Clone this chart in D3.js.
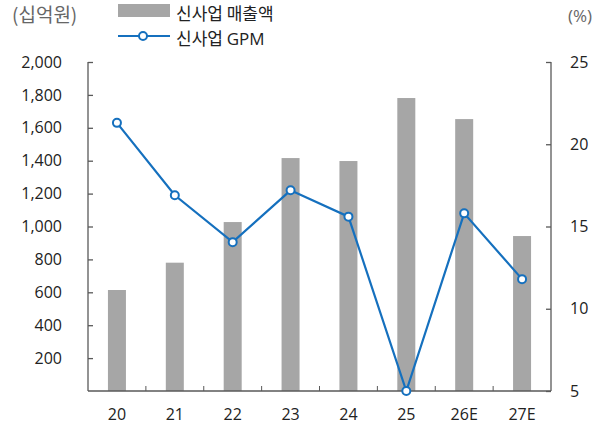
<!doctype html>
<meta charset="utf-8">
<script src="https://d3js.org/d3.v7.min.js"></script>
<style>
  body { margin: 0; background: #fff; }
  text { font-family: "Open Sans", "Noto Sans CJK KR", sans-serif; fill: #222; }
  .kr { font-family: "Noto Sans CJK KR", sans-serif; font-size: 17px; }
</style>
<body>
<svg width="604" height="433"></svg>
<script>
  // data
  var years = ["20", "21", "22", "23", "24", "25", "26E", "27E"];
  var sales = [614, 780, 1027, 1416, 1398, 1781, 1653, 942];
  var gpm = [21.3, 16.9, 14.05, 17.2, 15.6, 5.0, 15.8, 11.8];
  var leftTicks = [200, 400, 600, 800, 1000, 1200, 1400, 1600, 1800, 2000];
  var rightTicks = [5, 10, 15, 20, 25];

  var svg = d3.select("svg");
  var plotL = 88, plotR = 551, plotT = 62, plotB = 391;
  var axisColor = "#595959";
  var blue = "#1570be";

  var x = d3.scaleBand().domain(years).range([plotL, plotR]);
  var y = d3.scaleLinear().domain([0, 2000]).range([plotB, plotT]);
  var y2 = d3.scaleLinear().domain([5, 25]).range([plotB, plotT]);

  // bars
  var barW = 18;
  svg.selectAll(".bar")
    .data(sales)
    .enter().append("rect")
    .attr("x", function (d, i) { return x(years[i]) + x.bandwidth() / 2 - barW / 2; })
    .attr("y", function (d) { return y(d); })
    .attr("width", barW)
    .attr("height", function (d) { return plotB - y(d); })
    .attr("fill", "#a6a6a6");

  // left axis
  var gl = svg.append("g").attr("transform", "translate(" + plotL + ",0)")
    .call(d3.axisLeft(y).tickValues(leftTicks).tickSize(-5).tickPadding(26)
      .tickFormat(d3.format(",")));
  gl.select(".domain").attr("d", "M0," + plotT + "V" + plotB);

  // right axis
  var gr = svg.append("g").attr("transform", "translate(" + plotR + ",0)")
    .call(d3.axisRight(y2).tickValues(rightTicks).tickSize(-5).tickPadding(19));
  gr.select(".domain").attr("d", "M0," + plotT + "V" + plotB);

  // bottom axis with ticks at category boundaries
  var gb = svg.append("g").attr("transform", "translate(0," + plotB + ")")
    .call(d3.axisBottom(x).tickSize(0).tickPadding(18));
  gb.select(".domain").attr("d", "M" + plotL + ",0H" + plotR);
  gb.selectAll(".sep")
    .data(years.slice(1))
    .enter().append("line")
    .attr("x1", function (d) { return x(d); })
    .attr("x2", function (d) { return x(d); })
    .attr("y1", 0).attr("y2", -5)
    .attr("stroke", axisColor);

  svg.selectAll(".domain, .tick line")
    .attr("stroke", axisColor).attr("stroke-width", 1.3);
  svg.selectAll(".tick text").style("font-size", "16px").attr("fill", "#222");

  // GPM line
  var line = d3.line()
    .x(function (d, i) { return x(years[i]) + x.bandwidth() / 2; })
    .y(function (d) { return y2(d); });
  svg.append("path")
    .datum(gpm)
    .attr("d", line)
    .attr("fill", "none")
    .attr("stroke", blue)
    .attr("stroke-width", 2.2);
  svg.selectAll(".dot")
    .data(gpm)
    .enter().append("circle")
    .attr("cx", function (d, i) { return x(years[i]) + x.bandwidth() / 2; })
    .attr("cy", function (d) { return y2(d); })
    .attr("r", 4)
    .attr("fill", "#fff")
    .attr("stroke", blue)
    .attr("stroke-width", 2);

  // unit labels
  svg.append("text").attr("class", "kr").attr("x", 12).attr("y", 22)
    .style("font-size", "19px").style("fill", "#666").text("(십억원)");
  svg.append("text").attr("x", 568).attr("y", 22).style("font-size", "17px")
    .style("fill", "#666").text("(%)");

  // legend
  svg.append("rect").attr("x", 118).attr("y", 4).attr("width", 52).attr("height", 13)
    .attr("fill", "#a6a6a6");
  svg.append("text").attr("class", "kr").attr("x", 176).attr("y", 20).text("신사업 매출액");
  svg.append("line").attr("x1", 118).attr("x2", 170).attr("y1", 36).attr("y2", 36)
    .attr("stroke", blue).attr("stroke-width", 2.2);
  svg.append("circle").attr("cx", 143).attr("cy", 36).attr("r", 4)
    .attr("fill", "#fff").attr("stroke", blue).attr("stroke-width", 2);
  var t2 = svg.append("text").attr("class", "kr").attr("x", 176).attr("y", 45);
  t2.append("tspan").text("신사업 ");
  t2.append("tspan").style("font-family", "'Open Sans', sans-serif")
    .style("font-size", "17px").text("GPM");
</script>
</body>
